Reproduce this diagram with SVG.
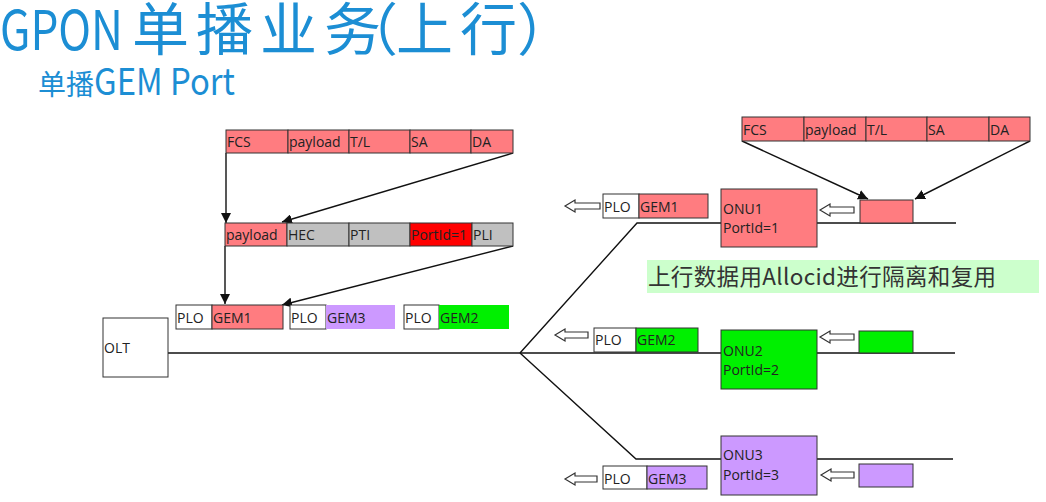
<svg xmlns="http://www.w3.org/2000/svg" width="1046" height="502" viewBox="0 0 1046 502">
<defs>
<style>
.t{font-family:"Open Sans","Liberation Sans",sans-serif;font-size:14px;fill:#222}
.cjk{font-family:"Noto Sans CJK SC","Noto Sans",sans-serif}
.bx{stroke:#333;stroke-width:1}
.pk{fill:#ff7c80}.rd{fill:#ff0000}.gy{fill:#c0c0c0}.pu{fill:#cc99ff}.gn{fill:#00f000}.wh{fill:#fff}
.ln{fill:none;stroke:#111;stroke-width:1.4}
.ha{fill:#fff;stroke:#333;stroke-width:1.2}
</style>
<marker id="ah" viewBox="0 0 10 10" refX="10" refY="5" markerWidth="10" markerHeight="10" markerUnits="userSpaceOnUse" orient="auto">
<path d="M0,0 L10,5 L0,10 Z" fill="#111"/>
</marker>
</defs>
<rect width="1046" height="502" fill="#fff"/>

<g id="title" class="cjk" fill="#1c8ed4">
<text y="50" font-size="54" x="0" textLength="123" lengthAdjust="spacingAndGlyphs">GPON</text>
<text y="50" font-size="57" x="132 196 260 324 341 396 460 517">单播业务（上行）</text>
<text y="95" font-size="28" x="38 66">单播</text>
<text y="95" font-size="37" x="94" textLength="141" lengthAdjust="spacingAndGlyphs">GEM Port</text>
</g>

<g id="connectors">
<polyline class="ln" points="168,353 520,353 721,353"/>
<polyline class="ln" points="520,353 637,223 721,223"/>
<polyline class="ln" points="520,353 636,459 721,459"/>
<line class="ln" x1="817" y1="223" x2="956" y2="223"/>
<line class="ln" x1="817" y1="353" x2="955" y2="353"/>
<line class="ln" x1="817" y1="459" x2="953" y2="459"/>
<line class="ln" x1="226" y1="153" x2="226" y2="223" marker-end="url(#ah)"/>
<line class="ln" x1="513" y1="153" x2="282" y2="222" marker-end="url(#ah)"/>
<line class="ln" x1="225" y1="246" x2="225" y2="304" marker-end="url(#ah)"/>
<line class="ln" x1="513" y1="246" x2="282" y2="305" marker-end="url(#ah)"/>
<line class="ln" x1="742" y1="141" x2="868" y2="199" marker-end="url(#ah)"/>
<line class="ln" x1="1030" y1="141" x2="915" y2="199" marker-end="url(#ah)"/>
<polygon class="ha" points="565,206 575,200 575,203 600,203 600,209 575,209 575,212"/>
<polygon class="ha" points="820,210 830,204 830,207 854,207 854,213 830,213 830,216"/>
<polygon class="ha" points="555,335 565,329 565,332 588,332 588,338 565,338 565,341"/>
<polygon class="ha" points="820,337 830,331 830,334 854,334 854,340 830,340 830,343"/>
<polygon class="ha" points="565,479 575,473 575,476 597,476 597,482 575,482 575,485"/>
<polygon class="ha" points="821,475 831,469 831,472 854,472 854,478 831,478 831,481"/>
</g>

<g id="eth-frame-left">
<rect class="bx pk" x="226" y="130" width="62" height="23"/>
<rect class="bx pk" x="288" y="130" width="61" height="23"/>
<rect class="bx pk" x="349" y="130" width="61" height="23"/>
<rect class="bx pk" x="410" y="130" width="61" height="23"/>
<rect class="bx pk" x="471" y="130" width="42" height="23"/>
<text class="t" y="147"><tspan x="227">FCS</tspan><tspan x="289">payload</tspan><tspan x="350">T/L</tspan><tspan x="411">SA</tspan><tspan x="472">DA</tspan></text>
</g>

<g id="gem-frame">
<rect class="bx pk" x="225" y="223" width="62" height="23"/>
<rect class="bx gy" x="287" y="223" width="62" height="23"/>
<rect class="bx gy" x="349" y="223" width="61" height="23"/>
<rect class="bx rd" x="410" y="223" width="62" height="23"/>
<rect class="bx gy" x="472" y="223" width="41" height="23"/>
<text class="t" y="240"><tspan x="226">payload</tspan><tspan x="288">HEC</tspan><tspan x="350">PTI</tspan><tspan x="411">PortId=1</tspan><tspan x="473">PLI</tspan></text>
</g>

<g id="olt-upstream">
<rect class="bx wh" x="176" y="305" width="36" height="24"/>
<rect class="bx pk" x="212" y="305" width="71" height="24"/>
<rect class="bx wh" x="290" y="305" width="36" height="24"/>
<rect class="pu" x="326" y="305" width="69" height="24"/>
<rect class="bx wh" x="404" y="305" width="35" height="24"/>
<rect class="gn" x="439" y="305" width="70" height="24"/>
<text class="t" y="323"><tspan x="177">PLO</tspan><tspan x="213">GEM1</tspan><tspan x="291">PLO</tspan><tspan x="327">GEM3</tspan><tspan x="405">PLO</tspan><tspan x="440">GEM2</tspan></text>
</g>

<g id="olt">
<rect class="bx wh" x="103" y="318" width="65" height="59"/>
<text class="t" x="104" y="353">OLT</text>
</g>

<g id="eth-frame-right">
<rect class="bx pk" x="742" y="117" width="62" height="24"/>
<rect class="bx pk" x="804" y="117" width="62" height="24"/>
<rect class="bx pk" x="866" y="117" width="61" height="24"/>
<rect class="bx pk" x="927" y="117" width="62" height="24"/>
<rect class="bx pk" x="989" y="117" width="41" height="24"/>
<text class="t" y="135"><tspan x="743">FCS</tspan><tspan x="805">payload</tspan><tspan x="867">T/L</tspan><tspan x="928">SA</tspan><tspan x="990">DA</tspan></text>
</g>

<g id="onu1">
<rect class="bx pk" x="721" y="189" width="96" height="58"/>
<text class="t" x="723" y="214">ONU1</text>
<text class="t" x="723" y="233">PortId=1</text>
<rect class="bx pk" x="860" y="200" width="53" height="23"/>
<rect class="bx wh" x="603" y="194" width="36" height="24"/>
<rect class="bx pk" x="639" y="194" width="69" height="24"/>
<text class="t" y="212"><tspan x="604">PLO</tspan><tspan x="640">GEM1</tspan></text>
</g>

<g id="note">
<rect x="647" y="260" width="392" height="33" fill="#ccffcc"/>
<text class="cjk" x="648" y="285" font-size="22.5" fill="#333" textLength="348" lengthAdjust="spacing">上行数据用Allocid进行隔离和复用</text>
</g>

<g id="onu2">
<rect class="bx gn" x="721" y="330" width="96" height="59"/>
<text class="t" x="723" y="356">ONU2</text>
<text class="t" x="723" y="375">PortId=2</text>
<rect class="bx gn" x="859" y="331" width="54" height="22"/>
<rect class="bx wh" x="594" y="328" width="42" height="24"/>
<rect class="bx gn" x="636" y="328" width="62" height="24"/>
<text class="t" y="345"><tspan x="595">PLO</tspan><tspan x="637">GEM2</tspan></text>
</g>

<g id="onu3">
<rect class="bx pu" x="721" y="436" width="96" height="59"/>
<text class="t" x="723" y="460">ONU3</text>
<text class="t" x="723" y="480">PortId=3</text>
<rect class="bx pu" x="859" y="464" width="54" height="23"/>
<rect class="bx wh" x="603" y="466" width="44" height="23"/>
<rect class="bx pu" x="647" y="466" width="60" height="23"/>
<text class="t" y="484"><tspan x="604">PLO</tspan><tspan x="648">GEM3</tspan></text>
</g>
</svg>
